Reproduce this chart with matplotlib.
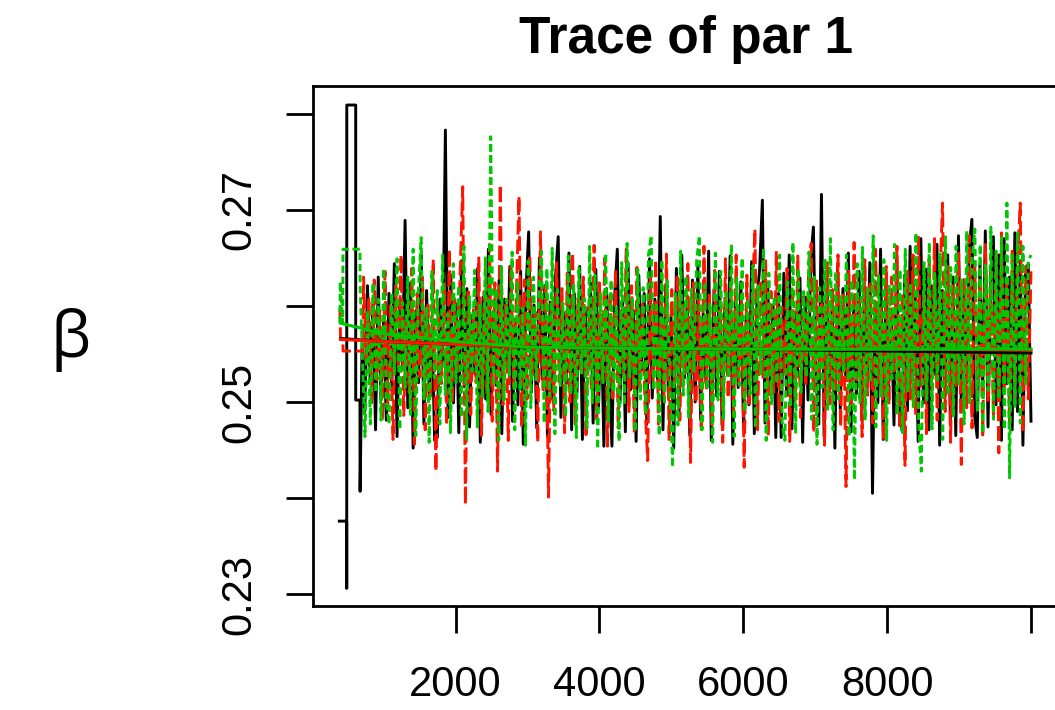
import numpy as np
import matplotlib
matplotlib.use("Agg")
import matplotlib.pyplot as plt

# burn-in part of each chain (iteration, value)
black_start_x = [383, 486, 486, 487, 611, 611, 670, 672]
black_start_y = [0.2376, 0.2376, 0.2306, 0.2809, 0.2809, 0.2502, 0.2502, 0.2407]
red_start_x = [392, 400, 434, 434, 712]
red_start_y = [0.2598, 0.2565, 0.2565, 0.2553, 0.2553]
green_start_x = [392, 395, 430, 434, 670, 672]
green_start_y = [0.2582, 0.2625, 0.2582, 0.2659, 0.2659, 0.2623]

# rest of the chains (evenly spaced iterations up to 10000)
black_vals = [
    0.2561, 0.2490, 0.2621, 0.2523, 0.2601, 0.2471, 0.2630, 0.2503, 0.2584, 0.2481,
    0.2613, 0.2512, 0.2644, 0.2464, 0.2604, 0.2536, 0.2689, 0.2494, 0.2624, 0.2452,
    0.2595, 0.2520, 0.2653, 0.2477, 0.2616, 0.2507, 0.2578, 0.2460, 0.2463, 0.2607,
    0.2542, 0.2783, 0.2484, 0.2632, 0.2499, 0.2602, 0.2468, 0.2647, 0.2516, 0.2618,
    0.2474, 0.2590, 0.2529, 0.2639, 0.2458, 0.2609, 0.2503, 0.2659, 0.2487, 0.2595,
    0.2517, 0.2627, 0.2467, 0.2607, 0.2536, 0.2641, 0.2480, 0.2586, 0.2497, 0.2636,
    0.2456, 0.2615, 0.2677, 0.2510, 0.2601, 0.2473, 0.2650, 0.2524, 0.2621, 0.2464,
    0.2604, 0.2502, 0.2630, 0.2672, 0.2484, 0.2593, 0.2519, 0.2655, 0.2471, 0.2613,
    0.2510, 0.2641, 0.2461, 0.2599, 0.2530, 0.2624, 0.2478, 0.2638, 0.2494, 0.2590,
    0.2454, 0.2618, 0.2523, 0.2454, 0.2609, 0.2659, 0.2499, 0.2604, 0.2469, 0.2645,
    0.2513, 0.2595, 0.2459, 0.2632, 0.2533, 0.2613, 0.2477, 0.2649, 0.2504, 0.2607,
    0.2523, 0.2693, 0.2471, 0.2621, 0.2511, 0.2588, 0.2452, 0.2639, 0.2490, 0.2653,
    0.2525, 0.2602, 0.2465, 0.2627, 0.2500, 0.2642, 0.2482, 0.2592, 0.2520, 0.2657,
    0.2460, 0.2617, 0.2506, 0.2636, 0.2476, 0.2598, 0.2529, 0.2652, 0.2456, 0.2610,
    0.2515, 0.2625, 0.2473, 0.2590, 0.2497, 0.2646, 0.2467, 0.2607, 0.2639, 0.2710,
    0.2478, 0.2621, 0.2521, 0.2601, 0.2463, 0.2613, 0.2463, 0.2634, 0.2507, 0.2653,
    0.2472, 0.2593, 0.2526, 0.2629, 0.2458, 0.2609, 0.2502, 0.2648, 0.2682, 0.2523,
    0.2477, 0.2716, 0.2464, 0.2630, 0.2512, 0.2603, 0.2452, 0.2641, 0.2493, 0.2618,
    0.2528, 0.2655, 0.2469, 0.2596, 0.2508, 0.2636, 0.2481, 0.2614, 0.2519, 0.2645,
    0.2405, 0.2604, 0.2499, 0.2659, 0.2461, 0.2626, 0.2516, 0.2594, 0.2476, 0.2650,
    0.2504, 0.2470, 0.2632, 0.2491, 0.2662, 0.2523, 0.2608, 0.2459, 0.2670, 0.2499,
    0.2638, 0.2471, 0.2621, 0.2529, 0.2664, 0.2455, 0.2616, 0.2511, 0.2653, 0.2480,
    0.2630, 0.2465, 0.2673, 0.2503, 0.2610, 0.2520, 0.2660, 0.2690, 0.2486, 0.2463,
    0.2644, 0.2508, 0.2678, 0.2474, 0.2624, 0.2672, 0.2497, 0.2653, 0.2460, 0.2670,
    0.2519, 0.2630, 0.2471, 0.2676, 0.2490, 0.2647, 0.2455, 0.2636, 0.2644, 0.2480,
]
red_vals = [
    0.2630, 0.2542, 0.2609, 0.2499, 0.2627, 0.2523, 0.2595, 0.2480, 0.2636, 0.2494,
    0.2602, 0.2461, 0.2621, 0.2533, 0.2653, 0.2486, 0.2590, 0.2510, 0.2639, 0.2456,
    0.2613, 0.2526, 0.2630, 0.2471, 0.2604, 0.2503, 0.2648, 0.2428, 0.2593, 0.2519,
    0.2623, 0.2476, 0.2659, 0.2498, 0.2607, 0.2530, 0.2632, 0.2724, 0.2393, 0.2618,
    0.2487, 0.2598, 0.2520, 0.2650, 0.2465, 0.2615, 0.2508, 0.2664, 0.2480, 0.2624,
    0.2428, 0.2726, 0.2497, 0.2601, 0.2460, 0.2641, 0.2516, 0.2610, 0.2714, 0.2473,
    0.2627, 0.2503, 0.2653, 0.2528, 0.2594, 0.2458, 0.2677, 0.2510, 0.2621, 0.2401,
    0.2603, 0.2491, 0.2645, 0.2521, 0.2618, 0.2468, 0.2634, 0.2500, 0.2655, 0.2477,
    0.2608, 0.2532, 0.2630, 0.2463, 0.2599, 0.2511, 0.2663, 0.2482, 0.2624, 0.2523,
    0.2650, 0.2454, 0.2614, 0.2504, 0.2638, 0.2473, 0.2595, 0.2529, 0.2659, 0.2490,
    0.2621, 0.2468, 0.2640, 0.2515, 0.2604, 0.2497, 0.2439, 0.2630, 0.2523, 0.2648,
    0.2477, 0.2611, 0.2507, 0.2654, 0.2461, 0.2617, 0.2519, 0.2633, 0.2481, 0.2601,
    0.2530, 0.2644, 0.2437, 0.2624, 0.2499, 0.2607, 0.2469, 0.2662, 0.2512, 0.2615,
    0.2476, 0.2637, 0.2526, 0.2596, 0.2458, 0.2649, 0.2504, 0.2621, 0.2486, 0.2653,
    0.2519, 0.2610, 0.2432, 0.2632, 0.2495, 0.2604, 0.2680, 0.2471, 0.2627, 0.2524,
    0.2647, 0.2465, 0.2615, 0.2510, 0.2657, 0.2480, 0.2599, 0.2529, 0.2639, 0.2459,
    0.2619, 0.2502, 0.2652, 0.2484, 0.2609, 0.2517, 0.2631, 0.2665, 0.2468, 0.2626,
    0.2525, 0.2602, 0.2455, 0.2645, 0.2498, 0.2617, 0.2513, 0.2653, 0.2474, 0.2613,
    0.2412, 0.2638, 0.2493, 0.2666, 0.2523, 0.2607, 0.2464, 0.2648, 0.2507, 0.2623,
    0.2478, 0.2659, 0.2520, 0.2598, 0.2460, 0.2641, 0.2497, 0.2630, 0.2532, 0.2662,
    0.2472, 0.2614, 0.2434, 0.2636, 0.2503, 0.2653, 0.2486, 0.2673, 0.2515, 0.2618,
    0.2467, 0.2649, 0.2508, 0.2670, 0.2481, 0.2627, 0.2707, 0.2490, 0.2641, 0.2458,
    0.2621, 0.2517, 0.2655, 0.2435, 0.2630, 0.2494, 0.2673, 0.2473, 0.2645, 0.2521,
    0.2624, 0.2463, 0.2664, 0.2500, 0.2636, 0.2484, 0.2653, 0.2447, 0.2676, 0.2511,
    0.2627, 0.2477, 0.2659, 0.2497, 0.2648, 0.2707, 0.2468, 0.2641, 0.2503, 0.2636,
]
green_vals = [
    0.2464, 0.2595, 0.2477, 0.2624, 0.2510, 0.2607, 0.2481, 0.2639, 0.2499, 0.2477,
    0.2613, 0.2529, 0.2649, 0.2471, 0.2604, 0.2515, 0.2630, 0.2487, 0.2659, 0.2465,
    0.2618, 0.2671, 0.2503, 0.2599, 0.2458, 0.2636, 0.2525, 0.2616, 0.2477, 0.2653,
    0.2508, 0.2592, 0.2468, 0.2644, 0.2520, 0.2621, 0.2484, 0.2662, 0.2461, 0.2610,
    0.2532, 0.2637, 0.2474, 0.2601, 0.2504, 0.2650, 0.2490, 0.2776, 0.2516, 0.2618,
    0.2460, 0.2641, 0.2502, 0.2607, 0.2528, 0.2656, 0.2471, 0.2626, 0.2511, 0.2598,
    0.2455, 0.2647, 0.2494, 0.2630, 0.2523, 0.2611, 0.2657, 0.2478, 0.2639, 0.2506,
    0.2660, 0.2467, 0.2617, 0.2517, 0.2603, 0.2485, 0.2652, 0.2508, 0.2623, 0.2463,
    0.2641, 0.2530, 0.2608, 0.2473, 0.2662, 0.2499, 0.2632, 0.2451, 0.2614, 0.2520,
    0.2655, 0.2480, 0.2627, 0.2510, 0.2600, 0.2459, 0.2645, 0.2497, 0.2665, 0.2526,
    0.2609, 0.2469, 0.2638, 0.2503, 0.2619, 0.2487, 0.2653, 0.2673, 0.2512, 0.2604,
    0.2465, 0.2648, 0.2497, 0.2626, 0.2521, 0.2432, 0.2613, 0.2476, 0.2657, 0.2507,
    0.2631, 0.2484, 0.2617, 0.2532, 0.2647, 0.2673, 0.2471, 0.2622, 0.2513, 0.2603,
    0.2458, 0.2655, 0.2502, 0.2636, 0.2481, 0.2614, 0.2525, 0.2664, 0.2464, 0.2629,
    0.2517, 0.2650, 0.2490, 0.2607, 0.2508, 0.2642, 0.2473, 0.2621, 0.2529, 0.2660,
    0.2460, 0.2634, 0.2498, 0.2610, 0.2519, 0.2653, 0.2478, 0.2460, 0.2625, 0.2494,
    0.2666, 0.2467, 0.2639, 0.2510, 0.2615, 0.2526, 0.2656, 0.2482, 0.2630, 0.2456,
    0.2619, 0.2515, 0.2649, 0.2491, 0.2670, 0.2471, 0.2636, 0.2503, 0.2611, 0.2530,
    0.2653, 0.2464, 0.2627, 0.2419, 0.2644, 0.2499, 0.2661, 0.2481, 0.2618, 0.2521,
    0.2673, 0.2474, 0.2632, 0.2506, 0.2648, 0.2460, 0.2622, 0.2524, 0.2664, 0.2487,
    0.2638, 0.2468, 0.2659, 0.2510, 0.2624, 0.2495, 0.2676, 0.2478, 0.2428, 0.2645,
    0.2502, 0.2666, 0.2472, 0.2634, 0.2523, 0.2654, 0.2461, 0.2672, 0.2507, 0.2640,
    0.2484, 0.2662, 0.2517, 0.2627, 0.2477, 0.2678, 0.2499, 0.2649, 0.2680, 0.2490,
    0.2664, 0.2467, 0.2642, 0.2512, 0.2682, 0.2482, 0.2657, 0.2503, 0.2671, 0.2471,
    0.2707, 0.2421, 0.2653, 0.2494, 0.2678, 0.2478, 0.2662, 0.2519, 0.2647, 0.2653,
]
body_start = {"black": 700, "red": 720, "green": 740}

# smoothed (lowess) lines
smooth_x = [400, 1000, 2000, 3000, 4000, 6000, 8000, 10000]
black_smooth = [0.2566, 0.2563, 0.2560, 0.2557, 0.2556, 0.2555, 0.2553, 0.2551]
red_smooth = [0.2565, 0.2563, 0.2560, 0.2557, 0.2556, 0.2555, 0.2555, 0.2554]
green_smooth = [0.2582, 0.2571, 0.2563, 0.2557, 0.2556, 0.2555, 0.2555, 0.2555]

xticks = [2000, 4000, 6000, 8000, 10000]
xlabels = ["2000", "4000", "6000", "8000", ""]
yticks = [0.23, 0.24, 0.25, 0.26, 0.27, 0.28]
ylabels = ["0.23", "", "0.25", "", "0.27", ""]

plt.rcParams["font.family"] = ["Liberation Sans", "DejaVu Sans"]

fig = plt.figure(figsize=(10.55, 7.10), dpi=100)
ax = fig.add_axes([312.7 / 1055, 1 - 605.7 / 710, (1058.6 - 312.7) / 1055, (605.7 - 86) / 710])

styles = {
    "black": dict(color="black", ls="-"),
    "red": dict(color="#ff1400", ls=(0, (5, 1.7))),
    "green": dict(color="#00c800", ls=(0, (2.5, 1.3))),
}
chains = {
    "black": (black_start_x, black_start_y, black_vals),
    "red": (red_start_x, red_start_y, red_vals),
    "green": (green_start_x, green_start_y, green_vals),
}
for name, (sx, sy, vals) in chains.items():
    bx = np.linspace(body_start[name], 10000, len(vals))
    xs = np.concatenate([sx, bx])
    ys = np.concatenate([sy, vals])
    ax.plot(xs, ys, lw=2.1, **styles[name])

ax.plot(smooth_x, black_smooth, color="black", lw=2.2)
ax.plot(smooth_x, red_smooth, color="#ff1400", lw=2.2)
ax.plot(smooth_x, green_smooth, color="#00c800", lw=2.2)

ax.set_xlim(13, 10384)
ax.set_ylim(0.22880, 0.28288)
ax.set_xticks(xticks)
ax.set_xticklabels(xlabels)
ax.set_yticks(yticks)
ax.set_yticklabels(ylabels, rotation=90, va="center")
ax.tick_params(length=19.5, width=2.0, labelsize=30)
ax.tick_params(axis="x", pad=23)
ax.tick_params(axis="y", pad=19)
for s in ax.spines.values():
    s.set_linewidth(2.0)

fig.text(686 / 1055, 1 - 53 / 710, "Trace of par 1", fontsize=37, fontweight="bold",
         ha="center", va="baseline")
fig.text(70 / 1055, 1 - 340 / 710, "β", fontsize=46, family=["Open Sans", "DejaVu Sans"],
         ha="center", va="center")

fig.savefig("out.png", dpi=100)
